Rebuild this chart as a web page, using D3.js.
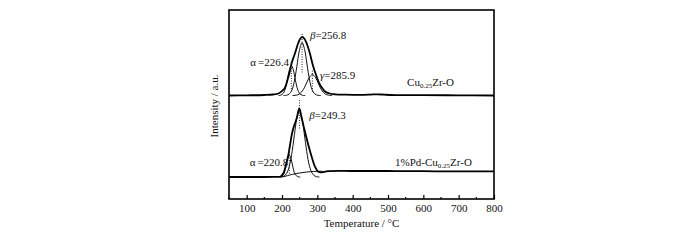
<!DOCTYPE html>
<html>
<head>
<meta charset="utf-8">
<script src="https://cdn.jsdelivr.net/npm/d3@7"></script>
<style>
body { margin: 0; background: #fff; }
text { font-family: "Liberation Serif", "Times New Roman", serif; fill: #111; }
</style>
</head>
<body>
<div id="chart"></div>
<script>
// x axis
var xTicks = [100, 200, 300, 400, 500, 600, 700, 800];
var xMinor = [50, 150, 250, 350, 450, 550, 650, 750];

// stacking offsets (a.u.) for the two spectra
var offsets = [103.5, 22];

// Cu0.25Zr-O : measured profile and fitted peaks [temperature, intensity]
var cuExp = [[50,0],[100,0.2],[150,0.5],[175,1],[190,2],[200,4.5],[208,7.5],[216,16],[222,24],[227,32],[232,37.5],[237,42.5],[246,52.5],[252,57],[257.5,58.5],[263,57],[270,52],[279,42],[288,29.5],[298,19],[307,11],[315,7],[322,4],[335,2],[350,1.2],[380,0.8],[420,0.6],[450,0.9],[470,1.2],[490,0.8],[520,0.4],[600,0.3],[700,0.2],[800,0]];
var cuAlpha = [[190,0],[196,0.3],[204,2.4],[210,7.8],[215,15.7],[220,24.4],[226.4,30],[232,25.6],[238,15.3],[244,6.4],[250,1.9],[258,0.2],[266,0]];
var cuBeta = [[204,0],[212,0.2],[220,1.3],[228,5.4],[235,14.4],[242,29],[249,44.8],[256.8,53],[264,46],[271,30.5],[278,15.5],[285,6],[293,1.5],[302,0.2],[310,0]];
var cuGamma = [[230,0],[240,0.3],[250,1.7],[260,5.7],[268,11.2],[276,17.4],[285.9,21],[295,17.9],[303,11.9],[312,5.5],[322,1.6],[332,0.3],[342,0]];
var cuMarks = [[226.4,32.5,2.5],[256.8,61.5,22.5],[285.9,25,2.5]];

// 1%Pd-Cu0.25Zr-O
var pdExp = [[50,0],[120,0],[180,0.2],[196,0.5],[204,3.7],[211,12],[218,22],[222.7,32],[227.5,42],[232,48.7],[241.6,58.7],[249,68.7],[255.8,58.7],[265,45.3],[274.5,32],[284,20.3],[293.4,10.3],[302.8,5.3],[312.4,4.7],[330,5.8],[400,6],[500,6],[600,5.8],[700,5.6],[800,5.6]];
var pdAlpha = [[190,0],[196,0.2],[204,2.5],[210,8.9],[215,17],[220.8,22],[226,17.8],[231,9.7],[237,2.8],[245,0.3],[252,0]];
var pdBeta = [[196,0],[205,0.8],[213,3.5],[221,11.1],[229,26.4],[237,47.2],[243,60.4],[249.3,66],[256,59.7],[263,43.5],[270,25.5],[278,10.6],[287,2.8],[297,0.4],[306,0]];
var pdBack = [[196,0],[205,0.4],[215,1.3],[230,2.7],[250,4],[270,5],[290,5.5],[315,5.8]];
var pdMarks = [[220.8,27,2],[249.3,77,47]];

// annotations: [temperature, intensity, anchor, parts, spectrum]
var labels = [
  [220, 29.5, "end", [["α", "n"], ["=226.4", "g"]], 0],
  [279, 56.5, "start", [["β", "i"], ["=256.8", "n"]], 0],
  [307.6, 16.5, "start", [["γ", "i"], ["=285.9", "n"]], 0],
  [554, 9.5, "start", [["Cu", "n"], ["0.25", "s"], ["Zr-O", "r"]], 0],
  [277, 58, "start", [["β", "i"], ["=249.3", "n"]], 1],
  [218, 11, "end", [["α", "n"], ["=220.8", "g"]], 1],
  [520, 11, "start", [["1%Pd-Cu", "n"], ["0.25", "s"], ["Zr-O", "r"]], 1]
];

var margin = { top: 10, right: 206, bottom: 41, left: 229 },
    width = 700 - margin.left - margin.right,
    height = 240 - margin.top - margin.bottom;

var svg = d3.select("#chart").append("svg")
    .attr("width", 700)
    .attr("height", 240);

var g = svg.append("g")
    .attr("transform", "translate(" + margin.left + "," + margin.top + ")");

var x = d3.scaleLinear().domain([50, 800]).range([0, width]);
var y = d3.scaleLinear().domain([0, height]).range([height, 0]);

function lineFor(off) {
    return d3.line()
        .x(function (d) { return x(d[0]); })
        .y(function (d) { return y(d[1] + off); })
        .curve(d3.curveCatmullRom.alpha(0.5));
}

function drawSet(exp, comps, marks, off) {
    var line = lineFor(off);
    comps.forEach(function (c) {
        g.append("path")
            .attr("d", line(c))
            .attr("fill", "none")
            .attr("stroke", "#111")
            .attr("stroke-width", 1);
    });
    g.append("path")
        .attr("d", line(exp))
        .attr("fill", "none")
        .attr("stroke", "#000")
        .attr("stroke-width", 1.8);
    g.selectAll(null)
        .data(marks)
        .enter().append("line")
        .attr("x1", function (d) { return x(d[0]); })
        .attr("x2", function (d) { return x(d[0]); })
        .attr("y1", function (d) { return y(d[1] + off); })
        .attr("y2", function (d) { return y(d[2] + off); })
        .attr("stroke", "#222")
        .attr("stroke-width", 1)
        .attr("stroke-dasharray", "1,1.5");
}

drawSet(cuExp, [cuAlpha, cuBeta, cuGamma], cuMarks, offsets[0]);
drawSet(pdExp, [pdAlpha, pdBeta, pdBack], pdMarks, offsets[1]);

// frame
g.append("rect")
    .attr("width", width)
    .attr("height", height)
    .attr("fill", "none")
    .attr("stroke", "#000")
    .attr("stroke-width", 1.6);

// bottom ticks, pointing inward
var xAxis = g.append("g")
    .attr("transform", "translate(0," + height + ")")
    .call(d3.axisBottom(x).tickValues(xTicks).tickSize(-4).tickPadding(5).tickFormat(d3.format("d")));
xAxis.select(".domain").remove();
xAxis.selectAll("line").attr("stroke", "#000").attr("stroke-width", 1.2);
xAxis.selectAll("text")
    .style("font-family", '"Liberation Serif", serif')
    .style("font-size", "11px")
    .attr("fill", "#111");

g.append("g")
    .attr("transform", "translate(0," + height + ")")
    .selectAll("line")
    .data(xMinor)
    .enter().append("line")
    .attr("x1", function (d) { return x(d); })
    .attr("x2", function (d) { return x(d); })
    .attr("y1", 0)
    .attr("y2", -2)
    .attr("stroke", "#000")
    .attr("stroke-width", 1.2);

// annotations
labels.forEach(function (l) {
    var t = g.append("text")
        .attr("x", x(l[0]))
        .attr("y", y(l[1] + offsets[l[4]]))
        .attr("text-anchor", l[2])
        .style("font-size", "11px");
    l[3].forEach(function (p) {
        var ts = t.append("tspan").text(p[0]);
        if (p[1] === "i") ts.style("font-style", "italic");
        if (p[1] === "g") ts.attr("dx", 2);
        if (p[1] === "s") ts.style("font-size", "7px").attr("dy", 2);
        if (p[1] === "r") ts.attr("dy", -2);
    });
});

// axis titles
svg.append("text")
    .attr("x", margin.left + width / 2)
    .attr("y", 227)
    .attr("text-anchor", "middle")
    .style("font-size", "11px")
    .text("Temperature / °C");

svg.append("text")
    .attr("transform", "translate(218," + (margin.top + 96) + ") rotate(-90)")
    .attr("text-anchor", "middle")
    .style("font-size", "11px")
    .text("Intensity / a.u.");
</script>
</body>
</html>
